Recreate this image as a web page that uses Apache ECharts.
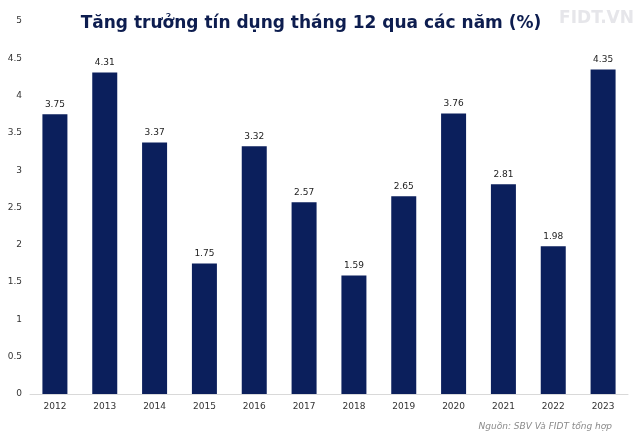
<!DOCTYPE html>
<html><head><meta charset="utf-8">
<script src="https://cdn.jsdelivr.net/npm/echarts@6/dist/echarts.min.js"></script>
<style>html,body{margin:0;padding:0;background:#fff}#c{width:640px;height:436px}</style>
</head><body><div id="c"></div>
<script>
const categories = ['2012','2013','2014','2015','2016','2017','2018','2019','2020','2021','2022','2023'];
const values = [3.75,4.31,3.37,1.75,3.32,2.57,1.59,2.65,3.76,2.81,1.98,4.35];
const yTicks = [0,0.5,1,1.5,2,2.5,3,3.5,4,4.5,5];
const titleText = 'Tăng trưởng tín dụng tháng 12 qua các năm (%)';
const sourceText = 'Nguồn: SBV Và FIDT tổng hợp';

const chart = echarts.init(document.getElementById('c'), null, {renderer:'canvas'});
chart.setOption({
  animation:false,
  backgroundColor:'#fff',
  title:{text:titleText,left:306,top:10,textAlign:'center',
    textStyle:{fontFamily:'DejaVu Sans',fontWeight:'bold',fontSize:17,color:'#0d1d4f'}},
  graphic:[
    {type:'text',right:6,top:10,style:{text:'FIDT.VN',font:'bold 17px "DejaVu Sans"',fill:'#e6e6ea'}},
    {type:'text',right:28,top:422,style:{text:sourceText,font:'italic 9px "DejaVu Sans"',fill:'#8a8a8a'}}
  ],
  grid:{left:30,right:12,top:21,bottom:42,containLabel:false},
  xAxis:{type:'category',data:categories,
    axisLine:{lineStyle:{color:'#d9d9d9'}},axisTick:{show:false},
    axisLabel:{color:'#333',fontSize:9,fontFamily:'DejaVu Sans',margin:8}},
  yAxis:{type:'value',min:0,max:5,interval:0.5,
    axisLine:{show:false},axisTick:{show:false},splitLine:{show:false},
    axisLabel:{color:'#333',fontSize:9,fontFamily:'DejaVu Sans',margin:8,
      formatter:v=>yTicks.includes(v)?String(v):''}},
  series:[{type:'bar',data:values,barWidth:25,
    itemStyle:{color:'#0b1f5c'},
    label:{show:true,position:'top',color:'#222',fontSize:9,fontFamily:'DejaVu Sans',distance:5}}]
});
</script></body></html>
